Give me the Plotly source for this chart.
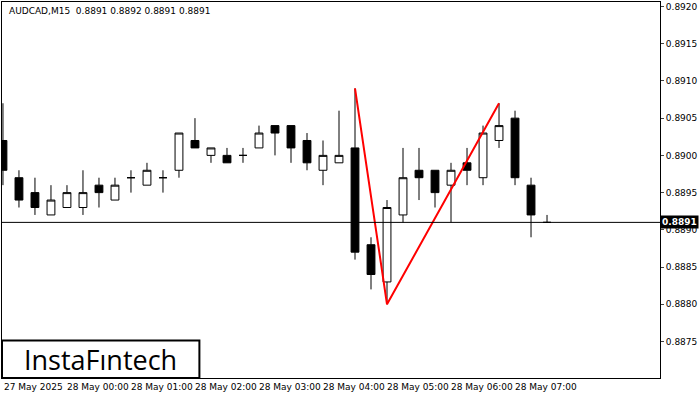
import plotly.graph_objects as go

opens  = [0.8902,0.8897,0.8895,0.8892,0.8893,0.8893,0.8896,0.8894,0.8897,0.8896,0.8897,0.8898,0.8902,0.8900,0.8900,0.8900,0.8901,0.8904,0.8904,0.8902,0.8898,0.8899,0.8901,0.8888,0.8883,0.8892,0.8898,0.8898,0.8896,0.8899,0.8897,0.8902,0.8905,0.8896,0.8891]
highs  = [0.8907,0.8898,0.8897,0.8896,0.8896,0.8898,0.8897,0.8897,0.8898,0.8899,0.8898,0.8903,0.8905,0.8901,0.8901,0.8901,0.8904,0.8904,0.8904,0.8903,0.8902,0.8906,0.8909,0.8889,0.8894,0.8901,0.8901,0.8898,0.8899,0.8901,0.8904,0.8907,0.8906,0.8897,0.8892]
lows   = [0.8896,0.8893,0.8892,0.8892,0.8893,0.8892,0.8893,0.8894,0.8895,0.8896,0.8895,0.8897,0.8901,0.8899,0.8899,0.8899,0.8901,0.8900,0.8899,0.8898,0.8896,0.8899,0.8886,0.8882,0.8880,0.8891,0.8894,0.8893,0.8891,0.8896,0.8896,0.8901,0.8896,0.8889,0.8891]
closes = [0.8898,0.8894,0.8893,0.8894,0.8895,0.8895,0.8895,0.8896,0.8897,0.8898,0.8897,0.8903,0.8901,0.8901,0.8899,0.8900,0.8903,0.8903,0.8901,0.8899,0.8900,0.8900,0.8887,0.8884,0.8893,0.8897,0.8897,0.8895,0.8898,0.8898,0.8903,0.8904,0.8897,0.8892,0.8891]
pattern_x = [22, 24, 31]
pattern_y = [0.8909, 0.8880, 0.8907]
time_labels = ["27 May 2025","28 May 00:00","28 May 01:00","28 May 02:00","28 May 03:00","28 May 04:00","28 May 05:00","28 May 06:00","28 May 07:00"]
time_pos = [0, 4, 8, 12, 16, 20, 24, 28, 32]
current = 0.8891
yticks = [0.8875,0.8880,0.8885,0.8890,0.8895,0.8900,0.8905,0.8910,0.8915,0.8920]

XR = [-0.06, 41.06]
x = list(range(len(opens)))
fig = go.Figure()
fig.add_trace(go.Candlestick(x=x, open=opens, high=highs, low=lows, close=closes,
    increasing=dict(line=dict(color="black", width=1), fillcolor="white"),
    decreasing=dict(line=dict(color="black", width=1), fillcolor="black"),
    whiskerwidth=0, showlegend=False))
fig.add_trace(go.Scatter(x=pattern_x, y=pattern_y, mode="lines",
    line=dict(color="#ff0000", width=2), showlegend=False))
fig.add_hline(y=current, line=dict(color="black", width=1))

for t, p in zip(time_labels, time_pos):
    px = (p - 0.1 - XR[0]) / (XR[1] - XR[0])
    fig.add_annotation(x=max(px, 0), y=0, xref="paper", yref="paper", yanchor="top", xanchor="left",
                       yshift=-2, text=t, showarrow=False, font=dict(size=9, color="black"))

fig.add_annotation(x=0.008, y=0.995, xref="paper", yref="paper", xanchor="left", yanchor="top",
    text="AUDCAD,M15  0.8891 0.8892 0.8891 0.8891", showarrow=False, font=dict(size=9, color="black"))
fig.add_annotation(x=1, y=current, xref="paper", yref="y", xanchor="left", text="<b>0.8891</b>",
    showarrow=False, bgcolor="black", font=dict(size=9, color="white"), borderpad=1)
fig.add_shape(type="rect", xref="paper", yref="paper", x0=0, x1=0.30, y0=0, y1=0.10,
    line=dict(color="black", width=2), fillcolor="white")
fig.add_annotation(x=0.15, y=0.05, xref="paper", yref="paper", xanchor="center", yanchor="middle",
    text="InstaFıntech", showarrow=False, font=dict(size=27, color="black", family="Open Sans"))

fig.update_layout(width=700, height=400, margin=dict(l=2, r=40, t=2, b=22, autoexpand=False),
    plot_bgcolor="white", paper_bgcolor="white", font=dict(family="DejaVu Sans"),
    xaxis=dict(range=XR, showgrid=False, showticklabels=False, rangeslider=dict(visible=False),
               showline=True, linecolor="black", mirror=True, zeroline=False),
    yaxis=dict(range=[0.88701, 0.89206], side="right", tickvals=yticks, tickformat=".4f",
               showgrid=False, showline=True, linecolor="black", mirror=True, ticks="outside",
               ticklen=3, tickfont=dict(size=9, color="black"), zeroline=False))
fig.write_html("out.html", config={"displayModeBar": False},
               post_script="document.body.style.margin='0';")
